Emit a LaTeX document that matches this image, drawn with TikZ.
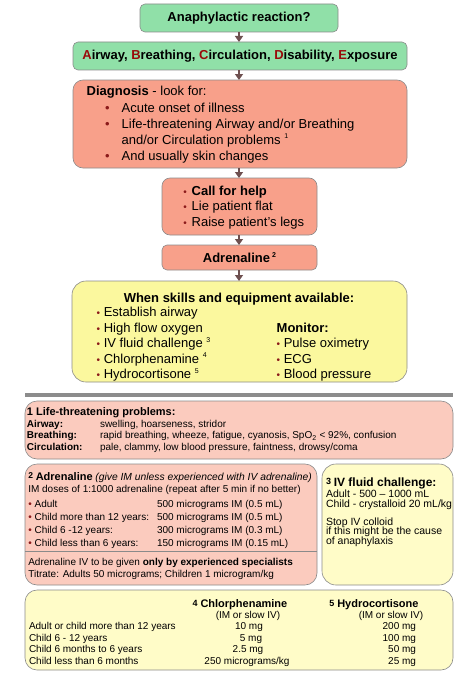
\documentclass[tikz,border=0pt]{standalone}
\usepackage{fontspec}
\setmainfont{Liberation Sans}
\usetikzlibrary{arrows.meta}
\definecolor{grnfill}{HTML}{90E0A8}
\definecolor{salfill}{HTML}{F8A08A}
\definecolor{yelfill}{HTML}{FBF89E}
\definecolor{pinkfill}{HTML}{FBCBBE}
\definecolor{lyelfill}{HTML}{FFFCC8}
\definecolor{edgegray}{HTML}{8A8A8A}
\definecolor{arrowc}{HTML}{6E5050}
\definecolor{bulc}{HTML}{8B1A1A}
\definecolor{abcred}{HTML}{990A0A}
\definecolor{barc}{HTML}{8C8C8C}
\newcommand{\fnm}[1]{\raisebox{0.75ex}{\fontsize{7}{7}\selectfont #1}}
\newcommand{\bul}{{\color{bulc}•}}
\newcommand{\sbul}{{\color{bulc}\fontsize{10}{10}\selectfont•}}
\newcommand{\R}[1]{{\color{abcred}#1}}
\begin{document}
\begin{tikzpicture}[x=1pt,y=-1pt,
  every node/.style={inner sep=0pt,outer sep=0pt},
  boxbase/.style={draw=edgegray,line width=0.6pt},
  arr/.style={-{Triangle[length=6pt,width=8pt]},line width=1.4pt,draw=arrowc},
  tb/.style={anchor=base west,font=\fontsize{13}{15}\selectfont},
  ts/.style={anchor=base west,font=\fontsize{10}{12}\selectfont},
  tsm/.style={anchor=base west,font=\fontsize{10.5}{12}\selectfont},
  tsc/.style={anchor=base,font=\fontsize{10}{12}\selectfont},
  tse/.style={anchor=base east,font=\fontsize{10}{12}\selectfont}]
\useasboundingbox (0,0) rectangle (466,677);

% ---- main flow boxes
\node[boxbase,fill=grnfill,rounded corners=5pt,minimum width=198pt,minimum height=28pt,
  font=\fontsize{13}{15}\selectfont\bfseries] (b1) at (239,18) {Anaphylactic reaction?};
\node[boxbase,fill=grnfill,rounded corners=5pt,minimum width=334pt,minimum height=28pt,
  font=\fontsize{13}{15}\selectfont\bfseries] (b2) at (240,56)
  {\R{A}irway, \R{B}reathing, \R{C}irculation, \R{D}isability, \R{E}xposure};
\node[boxbase,fill=salfill,rounded corners=10pt,minimum width=334pt,minimum height=88pt] (b3) at (240,124) {};
\node[boxbase,fill=salfill,rounded corners=8pt,minimum width=155pt,minimum height=57pt] (b4) at (239.5,206.5) {};
\node[boxbase,fill=salfill,rounded corners=5pt,minimum width=155pt,minimum height=25pt,
  font=\fontsize{13}{15}\selectfont\bfseries] (b5) at (239.5,257.5) {Adrenaline\,\fnm{2}};
\node[boxbase,fill=yelfill,rounded corners=14pt,minimum width=335pt,minimum height=101pt] (b6) at (239.5,331.5) {};

\draw[arr] (b1.south) -- (b1.south |- b2.north);
\draw[arr] (b1.south |- b2.south) -- (b1.south |- b3.north);
\draw[arr] (b1.south |- b3.south) -- (b1.south |- b4.north);
\draw[arr] (b1.south |- b4.south) -- (b1.south |- b5.north);
\draw[arr] (b1.south |- b5.south) -- (b1.south |- b6.north);

% ---- diagnosis text
\node[tb] (d0) at (86.7,95.7) {\textbf{Diagnosis} - look for:};
\node[tb] (d1b) at (105,112) {\bul};
\node[tb] (d1) at (121.7,112) {Acute onset of illness};
\node[tb] (d2b) at (105,128.5) {\bul};
\node[tb] (d2) at (121.7,128.5) {Life-threatening Airway and/or Breathing};
\node[tb] (d3) at (121.7,144) {and/or Circulation problems \fnm{1}};
\node[tb] (d4b) at (105,160) {\bul};
\node[tb] (d4) at (121.7,160) {And usually skin changes};

% ---- call for help
\node[tb] (c1b) at (183.3,195) {\sbul};
\node[tb] (c1) at (191.7,195) {\textbf{Call for help}};
\node[tb] (c2b) at (183.3,210.5) {\sbul};
\node[tb] (c2) at (191.7,210.5) {Lie patient flat};
\node[tb] (c3b) at (183.3,226) {\sbul};
\node[tb] (c3) at (191.7,226) {Raise patient’s legs};

% ---- yellow box
\node[anchor=base,font=\fontsize{13}{15}\selectfont\bfseries] (y0) at (239,302) {When skills and equipment available:};
\node[tb] (y1) at (96.7,316.5) {\sbul\ Establish airway};
\node[tb] (y2) at (96.7,332) {\sbul\ High flow oxygen};
\node[tb] (y3) at (96.7,347.5) {\sbul\ IV fluid challenge \fnm{3}};
\node[tb] (y4) at (96.7,363) {\sbul\ Chlorphenamine \fnm{4}};
\node[tb] (y5) at (96.7,378.5) {\sbul\ Hydrocortisone \fnm{5}};
\node[tb] (m0) at (276.7,332) {\textbf{Monitor:}};
\node[tb] (m1) at (276.7,347.5) {\sbul\ Pulse oximetry};
\node[tb] (m2) at (276.7,363) {\sbul\ ECG};
\node[tb] (m3) at (276.7,378.5) {\sbul\ Blood pressure};

% ---- separator bar
\node[fill=barc,minimum width=428pt,minimum height=4pt] (bar) at (239,395) {};

% ---- footnote 1
\node[boxbase,fill=pinkfill,rounded corners=12pt,minimum width=428pt,minimum height=58pt] (f1) at (239,430) {};
\node[anchor=base west,font=\fontsize{11}{13}\selectfont\bfseries] (f1h) at (27,415) {1 Life-threatening problems:};
\node[ts] (f1a) at (27,427) {\textbf{Airway:}};
\node[ts] (f1av) at (100,427) {swelling, hoarseness, stridor};
\node[ts] (f1b) at (27,438.5) {\textbf{Breathing:}};
\node[ts] (f1bv) at (100,438.5) {rapid breathing, wheeze, fatigue, cyanosis, SpO\textsubscript{2} < 92\%, confusion};
\node[ts] (f1c) at (27,450.5) {\textbf{Circulation:}};
\node[ts] (f1cv) at (100,450.5) {pale, clammy, low blood pressure, faintness, drowsy/coma};

% ---- footnote 2 adrenaline
\node[boxbase,fill=pinkfill,rounded corners=12pt,minimum width=292pt,minimum height=121pt] (f2) at (171,524.5) {};
\coordinate (dv1) at (25,551);
\coordinate (dv2) at (317,551);
\draw[edgegray,line width=0.6pt] (dv1) -- (dv2);
\node[anchor=base west] (f2h) at (28.3,480)
  {{\fontsize{8.5}{11}\selectfont\bfseries\raisebox{0.35ex}{2}} {\fontsize{11}{13}\selectfont\bfseries Adrenaline} {\fontsize{10.3}{11}\selectfont\itshape (give IM unless experienced with IV adrenaline)}};
\node[ts] (f2a) at (28.3,492) {IM doses of 1:1000 adrenaline (repeat after 5 min if no better)};
\node[ts] (f2r1) at (28.3,507) {\bul\ Adult};
\node[ts] (f2v1) at (157,507) {500 micrograms IM (0.5 mL)};
\node[ts] (f2r2) at (28.3,520) {\bul\ Child more than 12 years:};
\node[ts] (f2v2) at (157,520) {500 micrograms IM (0.5 mL)};
\node[ts] (f2r3) at (28.3,533) {\bul\ Child 6 -12 years:};
\node[ts] (f2v3) at (157,533) {300 micrograms IM (0.3 mL)};
\node[ts] (f2r4) at (28.3,546) {\bul\ Child less than 6 years:};
\node[ts] (f2v4) at (157,546) {150 micrograms IM (0.15 mL)};
\node[ts] (f2l1) at (28.3,565.5) {Adrenaline IV to be given \textbf{only by experienced specialists}};
\node[ts] (f2l2) at (28.3,577) {Titrate: Adults 50 micrograms; Children 1 microgram/kg};

% ---- footnote 3 IV fluid
\node[boxbase,fill=lyelfill,rounded corners=14pt,minimum width=131pt,minimum height=121pt] (f3) at (387.5,524.5) {};
\node[anchor=base west] (f3h) at (326,486)
  {{\fontsize{9}{11}\selectfont\bfseries\raisebox{0.35ex}{3}} {\fontsize{12}{13}\selectfont\bfseries IV fluid challenge:}};
\node[tsm] (f3a) at (326,497) {Adult - 500 – 1000 mL};
\node[tsm] (f3b) at (326,507) {Child - crystalloid 20 mL/kg};
\node[tsm] (f3c) at (326,525) {Stop IV colloid};
\node[tsm] (f3d) at (326,534.5) {if this might be the cause};
\node[tsm] (f3e) at (326,544) {of anaphylaxis};

% ---- footnote 4/5 table
\node[boxbase,fill=lyelfill,rounded corners=12pt,minimum width=428pt,minimum height=80pt] (f4) at (239,630) {};
\node[anchor=base] (f4h) at (240,607.5)
  {{\fontsize{9}{11}\selectfont\bfseries\raisebox{0.3ex}{4}} {\fontsize{11}{13}\selectfont\bfseries Chlorphenamine}};
\node[anchor=base] (f5h) at (374,607.5)
  {{\fontsize{9}{11}\selectfont\bfseries\raisebox{0.3ex}{5}} {\fontsize{11}{13}\selectfont\bfseries Hydrocortisone}};
\node[tsc] (f4s) at (248,618.5) {(IM or slow IV)};
\node[tsc] (f5s) at (391,618.5) {(IM or slow IV)};
\node[ts] (t1) at (29,629.5) {Adult or child more than 12 years};
\node[ts] (t2) at (29,641) {Child 6 - 12 years};
\node[ts] (t3) at (29,652.5) {Child 6 months to 6 years};
\node[ts] (t4) at (29,664) {Child less than 6 months};
\node[tsc] (u1) at (249,629.5) {10 mg};
\node[tsc] (u2) at (251,641) {5 mg};
\node[tsc] (u3) at (248,652.5) {2.5 mg};
\node[tsc] (u4) at (247,664) {250 micrograms/kg};
\node[tse] (v1) at (416,629.5) {200 mg};
\node[tse] (v2) at (416,641) {100 mg};
\node[tse] (v3) at (416,652.5) {50 mg};
\node[tse] (v4) at (416,664) {25 mg};
\end{tikzpicture}
\end{document}
